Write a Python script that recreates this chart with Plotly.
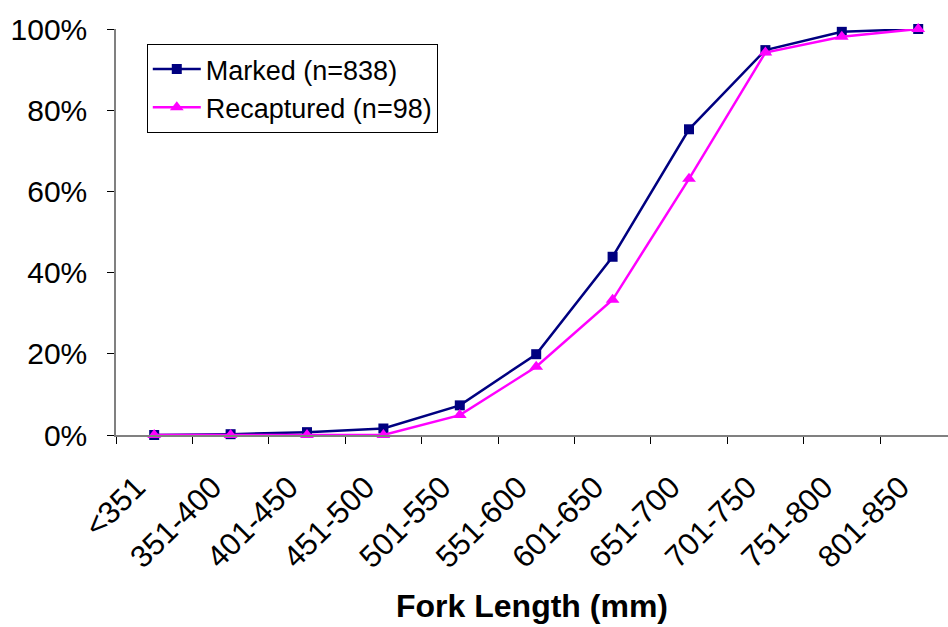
import plotly.graph_objects as go

categories = ["<351", "351-400", "401-450", "451-500", "501-550", "551-600",
              "601-650", "651-700", "701-750", "751-800", "801-850"]
marked = [0.000, 0.002, 0.007, 0.016, 0.073, 0.199, 0.439, 0.753, 0.948, 0.993, 1.000]
recaptured = [0.000, 0.000, 0.000, 0.000, 0.049, 0.168, 0.333, 0.631, 0.942, 0.981, 1.000]
y_ticks = [0, 0.2, 0.4, 0.6, 0.8, 1.0]

FONT = "Liberation Sans, Arial, sans-serif"

fig = go.Figure()
fig.add_trace(go.Scatter(
    x=categories, y=marked, mode="lines+markers", name="Marked (n=838)",
    line=dict(color="#000080", width=2.5),
    marker=dict(symbol="square", size=10, color="#000080"),
    cliponaxis=False,
))
fig.add_trace(go.Scatter(
    x=categories, y=recaptured, mode="lines+markers", name="Recaptured (n=98)",
    line=dict(color="#FF00FF", width=2.5),
    marker=dict(symbol="triangle-up", size=12, color="#FF00FF"),
    cliponaxis=False,
))

fig.update_layout(
    width=948, height=627,
    margin=dict(l=116, r=0, t=29, b=192),
    paper_bgcolor="white", plot_bgcolor="white",
    font=dict(family=FONT, size=30, color="black"),
    showlegend=True,
    legend=dict(
        x=0.037, y=0.963, xanchor="left", yanchor="top",
        bordercolor="black", borderwidth=1, bgcolor="white",
        font=dict(size=27), tracegroupgap=0, itemwidth=48,
    ),
)
fig.update_xaxes(
    type="category", range=[-0.5, 10.39],
    tickson="boundaries", ticks="outside", ticklen=7, tickcolor="black",
    showline=True, linecolor="#808080", linewidth=1.5,
    showgrid=False, zeroline=False, tickangle=-45,
    ticklabelstandoff=20, ticklabelshift=-18,
    tickfont=dict(size=31),
    title=dict(text="<b>Fork Length (mm)</b>", font=dict(size=32), standoff=21),
)
fig.update_yaxes(
    range=[0, 1], tickvals=y_ticks, tickformat=".0%",
    ticks="outside", ticklen=7, tickcolor="black",
    showline=True, linecolor="#808080", linewidth=1.5,
    showgrid=False, zeroline=False, ticklabelstandoff=14,
)

fig.write_html("out.html")
